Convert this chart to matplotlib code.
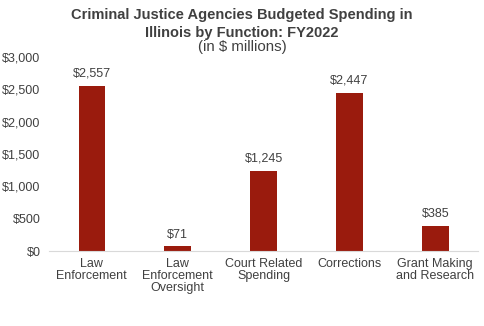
import matplotlib
matplotlib.use("Agg")
import matplotlib.pyplot as plt
import numpy as np

plt.rcParams['font.family'] = ['Liberation Sans', 'DejaVu Sans']

categories = ["Law\nEnforcement", "Law\nEnforcement\nOversight", "Court Related\nSpending",
              "Corrections", "Grant Making\nand Research"]
spending = [2557, 71, 1245, 2447, 385]
yticks = [0, 500, 1000, 1500, 2000, 2500, 3000]

text_color = "#404040"
bar_color = "#9A1B0D"

fig = plt.figure(figsize=(4.84, 3.26), dpi=100)
ax = fig.add_axes([0.101, 0.230, 0.887, 0.595])

x = np.arange(len(categories))
bars = ax.bar(x, spending, width=0.31, color=bar_color)

# value labels above each bar
for bar, v in zip(bars, spending):
    ax.text(bar.get_x() + bar.get_width() / 2, v + 90, f"${v:,}",
            ha="center", va="bottom", fontsize=9, color=text_color)

ax.set_xlim(-0.5, len(categories) - 0.5)
ax.set_ylim(0, 3000)
ax.set_yticks(yticks)
ax.set_yticklabels([f"${t:,}" for t in yticks], fontsize=9, color=text_color)
ax.set_xticks(x)
ax.set_xticklabels(categories, fontsize=9, color=text_color, linespacing=1.0)
ax.tick_params(length=0)
ax.tick_params(axis="x", pad=5)
ax.tick_params(axis="y", pad=6)

for side in ["top", "right", "left"]:
    ax.spines[side].set_visible(False)
ax.spines["bottom"].set_color("#d9d9d9")

fig.text(0.5, 0.927, "Criminal Justice Agencies Budgeted Spending in\nIllinois by Function: FY2022",
         ha="center", va="center", fontsize=10.5, fontweight="bold", color=text_color,
         linespacing=1.32)
fig.text(0.5, 0.856, "(in $ millions)", ha="center", va="center", fontsize=10.8, color=text_color)

fig.savefig("out.png", dpi=100)
